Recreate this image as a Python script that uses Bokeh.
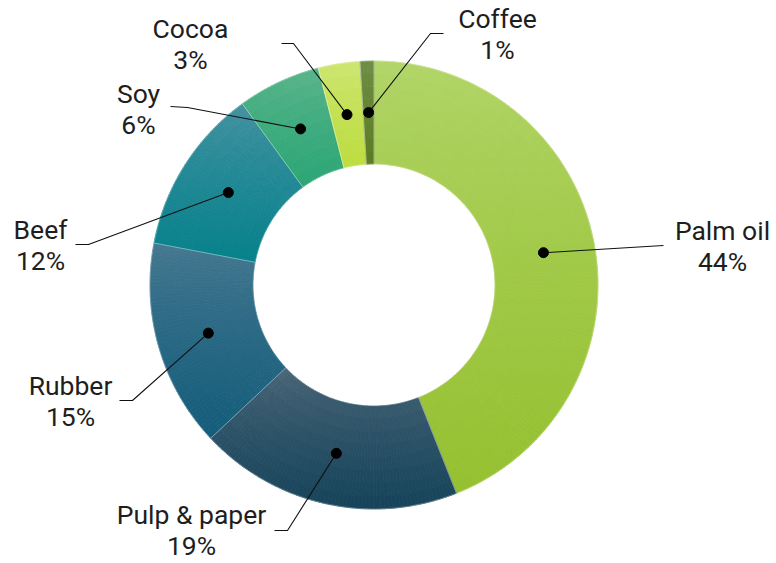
import numpy as np
from bokeh.plotting import figure
from bokeh.models import ColumnDataSource, Range1d
from bokeh.core.properties import value
from bokeh.embed import file_html
from bokeh.resources import INLINE

# ---- data ----
categories = ["Palm oil", "Pulp & paper", "Rubber", "Beef", "Soy", "Cocoa", "Coffee"]
shares = [44, 19, 15, 12, 6, 3, 1]
# vertical gradient of each slice: top colour -> bottom colour
colors_top = ["#b3d66b", "#4d6879", "#4a7a92", "#4a93a2", "#5fb68e", "#cfe777", "#72904a"]
colors_bottom = ["#95c02f", "#16435a", "#135c7a", "#05818b", "#2aa574", "#bcdc3e", "#5a7b22"]

# label layout (pixel coords, y measured from top)
label_x = [722, 191, 70, 40, 138, 190, 497]
label_y = [230, 514, 385, 229, 93, 28, 18]
elbow = [(663, 245), (287, 530), (132, 400), (88, 244), (187, 107), (293, 43), (430, 33)]
line_end = [(663, 245), (274, 530), (119, 400), (75, 244), (170, 106), (281, 43), (443, 33)]

W, H = 776, 563
CX, CY = 373.5, 284.5
R_OUT, R_IN = 224, 121


def hex2rgb(h):
    h = h.lstrip("#")
    return np.array([int(h[i:i + 2], 16) for i in (0, 2, 4)], dtype=float)


def rgb2hex(c):
    c = np.clip(np.round(c), 0, 255).astype(int)
    return "#%02x%02x%02x" % tuple(c)


p = figure(width=W, height=H, x_range=Range1d(0, W), y_range=Range1d(0, H),
           output_backend="svg", toolbar_location=None,
           x_axis_type=None, y_axis_type=None, min_border=0)
p.grid.visible = False
p.outline_line_color = None
p.background_fill_color = "white"

total = float(sum(shares))
frac = np.array(shares) / total
c1 = np.cumsum(frac)
c0 = c1 - frac
start = np.pi / 2 - 2 * np.pi * c1
end = np.pi / 2 - 2 * np.pi * c0
mid = np.pi / 2 - 2 * np.pi * (c0 + c1) / 2
YC = H - CY

# gradient-filled slices built from sub-cells
N_RAD = 8
gx, gy, gs, ge, gri, gro, gc = [], [], [], [], [], [], []
for i in range(len(shares)):
    a0, a1 = start[i], end[i]
    ang = np.linspace(a0, a1, 200)
    ys_pts = np.concatenate([YC + R_OUT * np.sin(ang), YC + R_IN * np.sin(ang)])
    ytop, ybot = ys_pts.max(), ys_pts.min()
    ctop, cbot = hex2rgb(colors_top[i]), hex2rgb(colors_bottom[i])
    n_ang = max(2, int(np.ceil(np.degrees(a1 - a0))))
    edges_a = np.linspace(a0, a1, n_ang + 1)
    edges_r = np.linspace(R_IN, R_OUT, N_RAD + 1)
    for k in range(n_ang):
        am = (edges_a[k] + edges_a[k + 1]) / 2
        for j in range(N_RAD):
            rm = (edges_r[j] + edges_r[j + 1]) / 2
            yv = YC + rm * np.sin(am)
            t = (ytop - yv) / (ytop - ybot)
            t = np.clip(t, 0, 1) ** 0.7
            gx.append(CX)
            gy.append(YC)
            gs.append(edges_a[k])
            ge.append(edges_a[k + 1])
            gri.append(edges_r[j])
            gro.append(edges_r[j + 1])
            gc.append(rgb2hex(ctop + (cbot - ctop) * t))

gsrc = ColumnDataSource(dict(x=gx, y=gy, s=gs, e=ge, ri=gri, ro=gro, c=gc))
p.annular_wedge(x="x", y="y", inner_radius="ri", outer_radius="ro",
                start_angle="s", end_angle="e", fill_color="c",
                line_color="c", line_width=0.8, direction="anticlock", source=gsrc)

# faint seams between slices
src = ColumnDataSource(dict(start=start, end=end,
                            x=[CX] * len(shares), y=[YC] * len(shares)))
p.annular_wedge(x="x", y="y", inner_radius=R_IN, outer_radius=R_OUT,
                start_angle="start", end_angle="end", fill_color=None,
                line_color="white", line_alpha=0.3, line_width=0.8,
                direction="anticlock", source=src)

r_mid = (R_IN + R_OUT) / 2
dot_x = CX + r_mid * np.cos(mid)
dot_y = YC + r_mid * np.sin(mid)

xs, ys = [], []
for i in range(len(shares)):
    xs.append([dot_x[i], elbow[i][0], line_end[i][0]])
    ys.append([dot_y[i], H - elbow[i][1], H - line_end[i][1]])
p.multi_line(xs=xs, ys=ys, line_color="#111111", line_width=1.1)
p.scatter(x=dot_x, y=dot_y, size=10, fill_color="black", line_color="black")

name_src = ColumnDataSource(dict(x=label_x, y=[H - v for v in label_y], t=categories))
pct_src = ColumnDataSource(dict(x=label_x, y=[H - v - 31 for v in label_y],
                                t=[f"{s}%" for s in shares]))
for s in (name_src, pct_src):
    p.text(x="x", y="y", text="t", source=s, text_align="center",
           text_baseline="middle", text_font=value("Roboto"),
           text_font_size="26.5px", text_color="#1e1e1e")

open("out.html", "w").write(file_html(p, INLINE))
